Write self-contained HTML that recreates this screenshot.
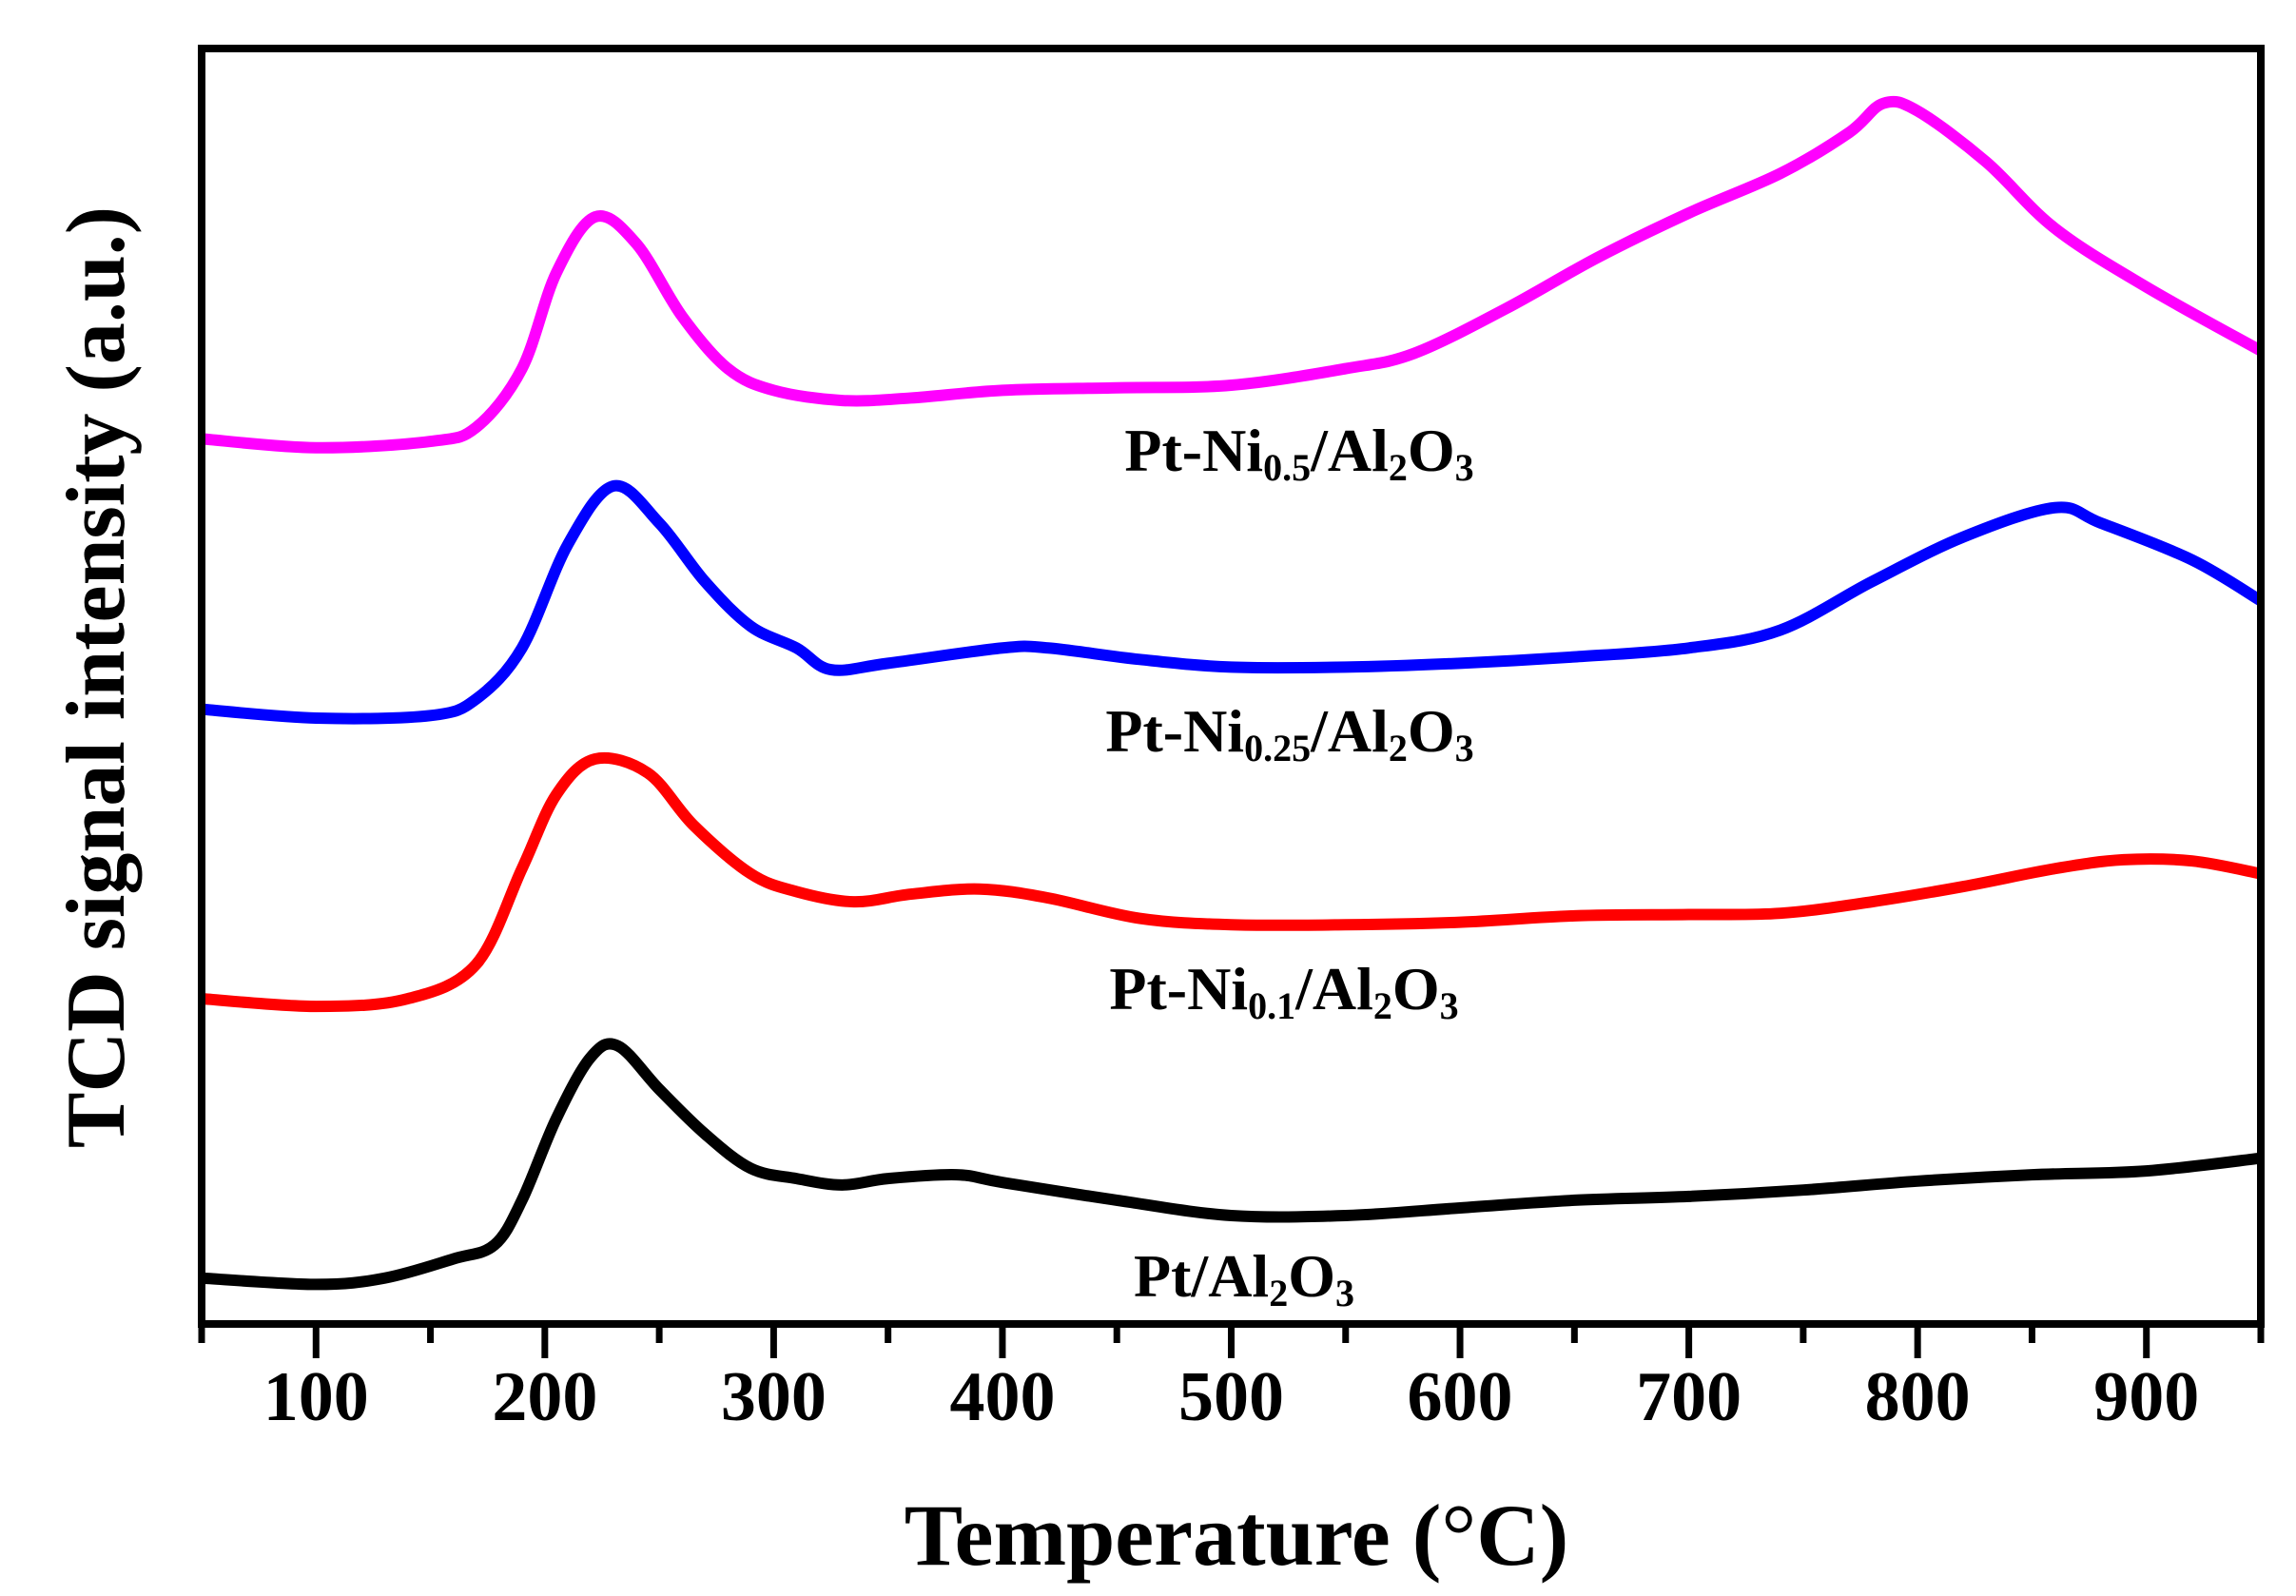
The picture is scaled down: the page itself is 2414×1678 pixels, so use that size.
<!DOCTYPE html>
<html><head><meta charset="utf-8"><style>
html,body{margin:0;padding:0;background:#fff;}
svg text{font-family:"Liberation Serif",serif;font-weight:bold;fill:#000;}
</style></head><body>
<svg id="chart" width="2414" height="1673" viewBox="0 0 2414 1673" xmlns="http://www.w3.org/2000/svg">
<g id="series"></g>
<rect x="212" y="51" width="2165" height="1341" fill="none" stroke="#000" stroke-width="8"/>
<g id="ticks"></g>
<text x="1300" y="1645" font-size="92" text-anchor="middle">Temperature (<tspan font-weight="normal">°</tspan>C)</text>
<text transform="translate(130,712) rotate(-90)" font-size="88" text-anchor="middle">TCD signal intensity (a.u.)</text>
<text x="1366" y="495" font-size="64" text-anchor="middle">Pt-Ni<tspan font-size="40" dy="10">0.5</tspan><tspan dy="-10">/Al</tspan><tspan font-size="40" dy="10">2</tspan><tspan dy="-10">O</tspan><tspan font-size="40" dy="10">3</tspan></text>
<text x="1356" y="790" font-size="64" text-anchor="middle">Pt-Ni<tspan font-size="40" dy="10">0.25</tspan><tspan dy="-10">/Al</tspan><tspan font-size="40" dy="10">2</tspan><tspan dy="-10">O</tspan><tspan font-size="40" dy="10">3</tspan></text>
<text x="1350" y="1061" font-size="64" text-anchor="middle">Pt-Ni<tspan font-size="40" dy="10">0.1</tspan><tspan dy="-10">/Al</tspan><tspan font-size="40" dy="10">2</tspan><tspan dy="-10">O</tspan><tspan font-size="40" dy="10">3</tspan></text>
<text x="1308" y="1363" font-size="64" text-anchor="middle">Pt/Al<tspan font-size="40" dy="10">2</tspan><tspan dy="-10">O</tspan><tspan font-size="40" dy="10">3</tspan></text>
</svg>
<script>
const tickValues=[100,200,300,400,500,600,700,800,900];
const minorTicks=[50,150,250,350,450,550,650,750,850,950];
const pinkT=[50,100,150,170,190,205,222,240,260,280,300,330,360,400,450,500,550,580,620,660,700,740,770,785,800,830,860,900,950];
const pinkV=[69.4,68.7,69.2,70.3,74.9,82.4,86.8,84.7,79.0,74.9,73.2,72.4,72.6,73.2,73.4,73.6,74.9,76.1,79.6,83.6,87.1,90.2,93.4,95.7,95.1,91.1,85.9,81.3,76.3];
const blueT=[50,100,150,170,190,210,230,250,270,290,310,325,350,400,420,460,500,550,600,650,700,740,780,820,860,880,920,950];
const blueV=[48.2,47.5,47.7,49.0,53.0,61.1,65.7,62.8,58.2,54.7,53.0,51.3,51.8,53.0,53.0,52.1,51.5,51.5,51.8,52.3,53.0,54.4,58.2,61.7,64.0,62.8,59.9,56.7];
const redT=[50,100,140,170,190,205,222,245,265,290,310,335,360,390,420,460,500,550,600,650,700,740,780,820,860,890,920,950];
const redV=[25.5,24.9,25.5,28.2,35.7,41.5,44.3,43.2,39.1,35.3,33.9,33.1,33.7,34.1,33.4,31.8,31.3,31.3,31.5,32.0,32.1,32.2,33.1,34.3,35.7,36.4,36.3,35.3];
const blackT=[50,100,130,160,178,190,205,220,232,250,270,290,310,330,350,380,400,450,500,550,600,650,700,750,800,850,900,950];
const blackV=[3.6,3.1,3.6,5.1,6.2,9.7,16.1,20.9,21.8,18.4,14.9,12.2,11.4,10.9,11.4,11.7,11.1,9.7,8.5,8.5,9.1,9.7,10.0,10.5,11.2,11.7,12.0,13.0];
const NS='http://www.w3.org/2000/svg';
function xs(t){return 212+(t-50)*2165/900;}
function ys(v){return 1392-v*13.41;}
function path(T,V){
  const p=T.map((t,i)=>[xs(t),ys(V[i])]);
  let d='M'+p[0][0]+','+p[0][1];
  for(let i=0;i<p.length-1;i++){
    const p0=p[i-1]||p[i],p1=p[i],p2=p[i+1],p3=p[i+2]||p2;
    const c1x=p1[0]+(p2[0]-p0[0])/6,c1y=p1[1]+(p2[1]-p0[1])/6;
    const c2x=p2[0]-(p3[0]-p1[0])/6,c2y=p2[1]-(p3[1]-p1[1])/6;
    d+=' C'+c1x+','+c1y+' '+c2x+','+c2y+' '+p2[0]+','+p2[1];
  }
  return d;
}
const g=document.getElementById('series');
[[pinkT,pinkV,'#ff00ff','series-pt-ni05'],[blueT,blueV,'#0000ff','series-pt-ni025'],[redT,redV,'#ff0000','series-pt-ni01'],[blackT,blackV,'#000000','series-pt']].forEach(s=>{
  const el=document.createElementNS(NS,'path');
  el.setAttribute('d',path(s[0],s[1]));
  el.setAttribute('fill','none');
  el.setAttribute('stroke',s[2]);
  el.setAttribute('stroke-width','12');
  
  
  g.appendChild(el);
});
const tg=document.getElementById('ticks');
tickValues.forEach(t=>{
  const l=document.createElementNS(NS,'line');
  l.setAttribute('x1',xs(t));l.setAttribute('x2',xs(t));
  l.setAttribute('y1',1392);l.setAttribute('y2',1428);
  l.setAttribute('stroke','#000');l.setAttribute('stroke-width','7');
  
  
  tg.appendChild(l);
  const tx=document.createElementNS(NS,'text');
  tx.setAttribute('x',xs(t));tx.setAttribute('y',1493);
  tx.setAttribute('font-size','74');tx.setAttribute('text-anchor','middle');
  tx.textContent=t;
  
  
  tg.appendChild(tx);
});
minorTicks.forEach(t=>{
  const l=document.createElementNS(NS,'line');
  l.setAttribute('x1',xs(t));l.setAttribute('x2',xs(t));
  l.setAttribute('y1',1392);l.setAttribute('y2',1412);
  l.setAttribute('stroke','#000');l.setAttribute('stroke-width','7');
  
  
  tg.appendChild(l);
});
</script>
</body></html>
